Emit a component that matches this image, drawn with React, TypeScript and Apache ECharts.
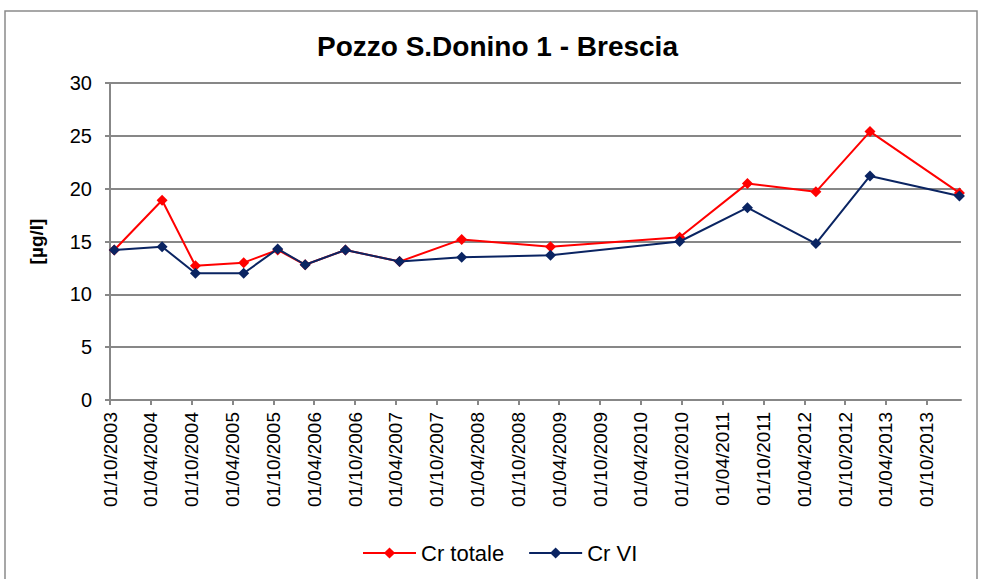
import React, { useEffect, useRef } from "react";
import * as echarts from "echarts";

const chartTitle = "Pozzo S.Donino 1 - Brescia";
const yAxisName = "[µg/l]";
const seriesNames = ["Cr totale", "Cr VI"];

const tickLabels = [
  "01/10/2003", "01/04/2004", "01/10/2004", "01/04/2005", "01/10/2005",
  "01/04/2006", "01/10/2006", "01/04/2007", "01/10/2007", "01/04/2008",
  "01/10/2008", "01/04/2009", "01/10/2009", "01/04/2010", "01/10/2010",
  "01/04/2011", "01/10/2011", "01/04/2012", "01/10/2012", "01/04/2013",
  "01/10/2013",
];
const axisEndDate = "03/03/2014";

const sampleDates = [
  "20/10/2003", "21/05/2004", "17/10/2004", "21/05/2005", "20/10/2005",
  "20/02/2006", "19/08/2006", "18/04/2007", "21/01/2008", "21/02/2009",
  "22/09/2010", "22/07/2011", "23/05/2012", "20/01/2013", "24/02/2014",
];
const crTotale = [14.2, 18.9, 12.7, 13.0, 14.2, 12.8, 14.2, 13.1, 15.2, 14.5, 15.4, 20.5, 19.7, 25.4, 19.6];
const crVI = [14.2, 14.5, 12.0, 12.0, 14.3, 12.8, 14.2, 13.1, 13.5, 13.7, 15.0, 18.2, 14.8, 21.2, 19.3];

const yMin = 0;
const yMax = 30;
const yStep = 5;

const parseDate = (s: string) => {
  const [d, m, y] = s.split("/").map(Number);
  return Date.UTC(y, m - 1, d);
};
const pad = (n: number) => (n < 10 ? "0" + n : "" + n);
const fmtDate = (v: number) => {
  const d = new Date(v);
  return pad(d.getUTCDate()) + "/" + pad(d.getUTCMonth() + 1) + "/" + d.getUTCFullYear();
};

const FONT = "'Liberation Sans', Arial, Helvetica, sans-serif";
const GRID_GRAY = "#878787";

export default function App() {
  const ref = useRef<HTMLDivElement>(null);
  useEffect(() => {
    if (!ref.current) return;
    const chart = echarts.init(ref.current, undefined, { renderer: "svg" });
    const tickValues = tickLabels.map(parseDate);
    const xs = sampleDates.map(parseDate);
    const option: any = {
      animation: false,
      backgroundColor: "#ffffff",
      textStyle: { fontFamily: FONT },
      title: {
        text: chartTitle,
        left: 317,
        top: 32,
        padding: 0,
        textStyle: { fontFamily: FONT, fontSize: 28, fontWeight: "bold", color: "#000" },
      },
      graphic: [
        {
          type: "rect",
          shape: { x: 5, y: 11, width: 972, height: 620 },
          style: { fill: "none", stroke: "#8a8a8a", lineWidth: 1.5 },
          silent: true,
        },
      ],
      legend: {
        left: 357,
        top: 537,
        itemWidth: 53,
        itemHeight: 14,
        itemGap: 24,
        textStyle: { fontFamily: FONT, fontSize: 22, color: "#000" },
        data: seriesNames,
      },
      grid: { left: 110, right: 20, top: 83, bottom: 179, containLabel: false },
      xAxis: {
        type: "value",
        min: parseDate(tickLabels[0]),
        max: parseDate(axisEndDate),
        splitLine: { show: false },
        axisLine: { lineStyle: { color: GRID_GRAY, width: 2 } },
        axisTick: {
          show: true,
          customValues: tickValues,
          length: 5,
          lineStyle: { color: GRID_GRAY, width: 2 },
        },
        axisLabel: {
          customValues: tickValues,
          rotate: 90,
          margin: 12,
          fontSize: 19,
          color: "#000",
          fontFamily: FONT,
          formatter: (v: number) => fmtDate(v),
        },
      },
      yAxis: {
        type: "value",
        min: yMin,
        max: yMax,
        interval: yStep,
        name: yAxisName,
        nameLocation: "middle",
        nameGap: 64,
        nameTextStyle: { fontFamily: FONT, fontSize: 19, fontWeight: "bold", color: "#000" },
        axisLine: { show: true, lineStyle: { color: GRID_GRAY, width: 2 } },
        axisTick: { show: true, length: 5, lineStyle: { color: GRID_GRAY, width: 2 } },
        axisLabel: { fontSize: 20, color: "#000", margin: 18, fontFamily: FONT },
        splitLine: { show: true, lineStyle: { color: GRID_GRAY, width: 2 } },
      },
      series: [
        {
          name: seriesNames[0],
          type: "line",
          data: xs.map((x, i) => [x, crTotale[i]]),
          symbol: "diamond",
          symbolSize: 11,
          color: "#ff0000",
          lineStyle: { width: 2, color: "#ff0000" },
          itemStyle: { color: "#ff0000" },
          z: 2,
        },
        {
          name: seriesNames[1],
          type: "line",
          data: xs.map((x, i) => [x, crVI[i]]),
          symbol: "diamond",
          symbolSize: 11,
          color: "#0a2462",
          lineStyle: { width: 2, color: "#0a2462" },
          itemStyle: { color: "#0a2462" },
          z: 3,
        },
      ],
    };
    chart.setOption(option);
    return () => chart.dispose();
  }, []);
  return (
    <div
      ref={ref}
      style={{ position: "absolute", left: 0, top: 0, width: 981, height: 579 }}
    />
  );
}
